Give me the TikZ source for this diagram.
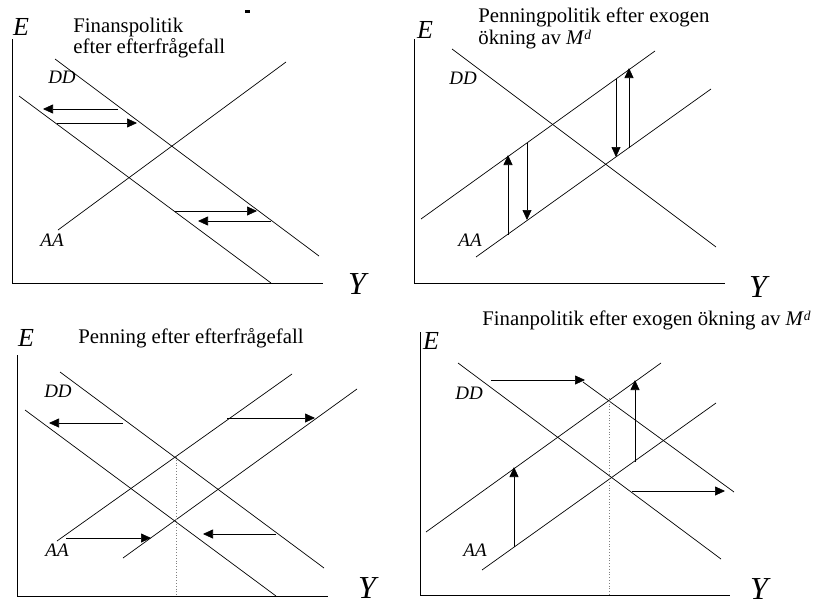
\documentclass[tikz,border=0pt]{standalone}
\usepackage{fontspec}
\setmainfont{Liberation Serif}
\usetikzlibrary{arrows.meta}
\newcommand\mysupd{\raisebox{4.5pt}{\fontsize{13.5}{13.5}\selectfont\itshape d}}
\begin{document}
\begin{tikzpicture}[x=1pt,y=-1pt,line width=0.7pt,
  arr/.style={-{Triangle[length=10pt,width=9pt]},line width=0.7pt},
  ttl/.style={anchor=base west,inner sep=0pt,font=\fontsize{20.8}{21}\selectfont},
  elab/.style={inner sep=0pt,font=\fontsize{26}{26}\selectfont\itshape},
  ylab/.style={inner sep=0pt,font=\fontsize{32}{32}\selectfont\itshape},
  crv/.style={inner sep=0pt,font=\fontsize{19}{19}\selectfont\itshape},
  guide/.style={dotted,gray,line width=0.8pt}]
\useasboundingbox (0,0) rectangle (817,613);
% ---------- Q1 ----------
\draw (12,39) -- (12,283) -- (323,283);
\draw (55,59) -- (319,256);
\draw (19,96) -- (271,283);
\draw (58,230) -- (286,62);
\draw[arr] (118,109) -- (43,109);
\draw[arr] (57,123) -- (137,123);
\draw[arr] (175,211) -- (257,211);
\draw[arr] (271,221) -- (198,221);
\fill (245,10) rectangle (250,12.5);
\node[elab] (e1) at (21,27) {E};
\node[ylab] (y1) at (357,284) {Y};
\node[crv] (dd1) at (62,77) {DD};
\node[crv] (aa1) at (52,240) {AA};
\node[ttl] (t1a) at (73,32) {Finanspolitik};
\node[ttl] (t1b) at (73,53) {efter efterfrågefall};
% ---------- Q2 ----------
\draw (414,39) -- (414,283) -- (725,283);
\draw (452,49) -- (716,247);
\draw (421,219) -- (655,51);
\draw (476,257) -- (711,89);
\draw[arr] (508,235) -- (508,155);
\draw[arr] (527,143) -- (527,220);
\draw[arr] (616,79) -- (616,157);
\draw[arr] (629,148) -- (629,68);
\node[elab] (e2) at (425,30) {E};
\node[ylab] (y2) at (758,287) {Y};
\node[crv] (dd2) at (463,78) {DD};
\node[crv] (aa2) at (470,240) {AA};
\node[ttl] (t2a) at (478,23) {Penningpolitik efter exogen};
\node[ttl] (t2b) at (478,44) {ökning av \textit{M}\mysupd};
% ---------- Q3 ----------
\draw (17,355) -- (17,596) -- (328,596);
\draw (60,372) -- (324,568);
\draw (25,410) -- (276,596);
\draw (57,541) -- (292,374);
\draw (123,558) -- (357,389);
\draw[guide] (176,457) -- (176,596);
\draw[arr] (123,423) -- (49,423);
\draw[arr] (227,418) -- (315,418);
\draw[arr] (66,538) -- (151,538);
\draw[arr] (276,534) -- (203,534);
\node[elab] (e3) at (26,338) {E};
\node[ylab] (y3) at (367,588) {Y};
\node[crv] (dd3) at (58,391) {DD};
\node[crv] (aa3) at (57,550) {AA};
\node[ttl] (t3) at (78,343) {Penning efter efterfrågefall};
% ---------- Q4 ----------
\draw (420,332) -- (420,595) -- (730,595);
\draw (458,363) -- (721,559);
\draw (583,382) -- (734,492);
\draw (426,532) -- (661,363);
\draw (482,570) -- (716,403);
\draw[guide] (609,398) -- (609,595);
\draw[arr] (491,380) -- (585,380);
\draw[arr] (514,547) -- (514,467);
\draw[arr] (635,462) -- (635,380);
\draw[arr] (632,491) -- (725,491);
\node[elab] (e4) at (431,341) {E};
\node[ylab] (y4) at (759,589) {Y};
\node[crv] (dd4) at (469,393) {DD};
\node[crv] (aa4) at (475,550) {AA};
\node[ttl] (t4) at (482,325) {Finanpolitik efter exogen ökning av \textit{M}\mysupd};
\end{tikzpicture}
\end{document}
